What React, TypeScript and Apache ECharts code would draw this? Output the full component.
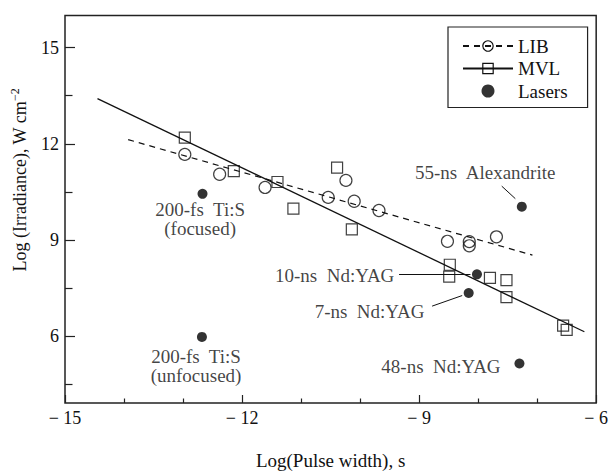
import React, { useEffect, useRef } from "react";
import * as echarts from "echarts";

// ---- data ----
const libX = [-12.97, -12.38, -11.61, -10.54, -10.24, -10.1, -9.68, -8.52, -8.15, -8.15, -7.69];
const libY = [11.67, 11.05, 10.64, 10.33, 10.86, 10.21, 9.92, 8.96, 8.95, 8.82, 9.1];
const mvlX = [-12.97, -12.14, -11.4, -11.13, -10.39, -10.14, -8.48, -8.49, -7.8, -7.52, -7.52, -6.56, -6.5];
const mvlY = [12.19, 11.15, 10.81, 9.98, 11.26, 9.33, 8.23, 7.86, 7.82, 7.75, 7.22, 6.33, 6.2];
const laserX = [-12.67, -12.68, -7.26, -8.02, -8.16, -7.3];
const laserY = [10.44, 5.98, 10.04, 7.93, 7.35, 5.15];
const libFitX = [-13.93, -7.08];
const libFitY = [12.13, 8.53];
const mvlFitX = [-14.45, -6.2];
const mvlFitY = [13.41, 6.14];

const noteTexts = [
  "200-fs  Ti:S\n(focused)",
  "200-fs  Ti:S\n(unfocused)",
  "55-ns  Alexandrite",
  "10-ns  Nd:YAG",
  "7-ns  Nd:YAG",
  "48-ns  Nd:YAG",
];
const noteX = [-12.71, -12.78, -7.88, -9.42, -9.84, -8.63];
const noteY = [9.66, 5.08, 11.11, 7.88, 6.76, 5.05];
const noteAnchor = ["center", "center", "center", "right", "center", "center"];

const leaderX = [[-7.6, -7.37], [-9.34, -8.13], [-8.78, -8.27]];
const leaderY = [[10.68, 10.29], [7.94, 7.94], [6.94, 7.27]];

const xTickStep = 3;
const yTicks = [6, 9, 12, 15];
const yMinorTicks = [4.5, 7.5, 10.5, 13.5];

export default function App() {
  const ref = useRef<HTMLDivElement>(null);
  useEffect(() => {
    document.body.style.margin = "0";
    const chart = echarts.init(ref.current!, null, { renderer: "svg" });
    const font = "'Liberation Serif', 'Times New Roman', serif";
    const ink = "#111";
    const tickLine = { color: "#222", width: 1.2 };
    const hollow = { color: "rgba(0,0,0,0)", borderColor: ink, borderWidth: 1.2 };
    const pairs = (xs: number[], ys: number[]) => xs.map((x, i) => [x, ys[i]]);

    const option: any = {
      animation: false,
      textStyle: { fontFamily: font, color: ink },
      grid: {
        left: 65, right: 11, top: 15.5, bottom: 66.5,
        show: true, borderColor: "#222", borderWidth: 1.5,
      },
      legend: {
        orient: "vertical",
        left: 448, top: 27,
        padding: [9.5, 20, 7, 14],
        itemGap: 3.5,
        itemWidth: 50, itemHeight: 13,
        borderColor: "#222", borderWidth: 1.2,
        data: ["LIB", "MVL", "Lasers"],
        textStyle: { fontSize: 19, fontFamily: font, color: ink },
        itemStyle: { borderWidth: 1.2 },
      },
      xAxis: {
        type: "value", min: -15, max: -6, interval: xTickStep,
        axisLine: { show: false },
        splitLine: { show: false },
        axisTick: { show: true, inside: true, length: 8, lineStyle: tickLine },
        minorTick: { show: true, splitNumber: 3, length: 4.5, lineStyle: tickLine },
        axisLabel: {
          margin: 6, fontSize: 18, fontFamily: font, color: ink,
          formatter: (v: number) => (v < 0 ? "− " + Math.abs(v) : String(v)),
        },
        name: "Log(Pulse width), s",
        nameLocation: "middle", nameGap: 48,
        nameTextStyle: { fontSize: 19, fontFamily: font, color: ink },
      },
      yAxis: [
        {
          type: "value", min: 3.92, max: 16,
          axisLine: { show: false }, splitLine: { show: false },
          axisTick: { show: true, inside: true, length: 10, customValues: yTicks, lineStyle: tickLine },
          axisLabel: { customValues: yTicks, margin: 6, fontSize: 18, fontFamily: font, color: ink },
        },
        {
          type: "value", min: 3.92, max: 16, position: "left",
          axisLine: { show: false }, splitLine: { show: false },
          axisTick: { show: true, inside: true, length: 7.5, customValues: yMinorTicks, lineStyle: tickLine },
          axisLabel: { show: false },
        },
      ],
      graphic: [
        {
          type: "text", x: 20, y: 180, rotation: Math.PI / 2,
          style: {
            text: "Log (Irradiance), W cm{sup|−2}",
            fontSize: 18, fontFamily: font, fill: ink,
            align: "center", verticalAlign: "middle",
            rich: { sup: { fontSize: 12, fontFamily: font, fill: ink, padding: [0, 0, 10, 0] } },
          },
        },
      ],
      series: [
        {
          name: "LIB", type: "line", data: pairs(libFitX, libFitY),
          symbol: "circle", symbolSize: 11, showSymbol: false, silent: true,
          lineStyle: { type: [6, 5], color: ink, width: 1.2 },
          itemStyle: hollow, z: 2,
        },
        {
          name: "MVL", type: "line", data: pairs(mvlFitX, mvlFitY),
          symbol: "rect", symbolSize: 11, showSymbol: false, silent: true,
          lineStyle: { type: "solid", color: ink, width: 1.3 },
          itemStyle: hollow, z: 2,
        },
        {
          name: "LIB", type: "scatter", data: pairs(libX, libY),
          symbol: "circle", symbolSize: 12, itemStyle: hollow, z: 3,
        },
        {
          name: "MVL", type: "scatter", data: pairs(mvlX, mvlY),
          symbol: "rect", symbolSize: 11, itemStyle: hollow, z: 3,
        },
        {
          name: "Lasers", type: "scatter", data: pairs(laserX, laserY),
          symbol: "circle", symbolSize: 10, itemStyle: { color: "#000" }, z: 4,
        },
        {
          name: "notes", type: "scatter", symbolSize: 0, silent: true, z: 5,
          data: noteTexts.map((t, i) => ({
            name: t,
            value: [noteX[i], noteY[i]],
            label: noteAnchor[i] === "right"
              ? { position: "left", distance: 0, align: "right" }
              : { position: "inside", align: "center" },
          })),
          label: {
            show: true, formatter: (p: any) => p.name,
            fontSize: 19, fontFamily: font, color: ink, lineHeight: 19.5,
            verticalAlign: "middle",
          },
        },
        {
          name: "leaders", type: "lines", coordinateSystem: "cartesian2d", silent: true, z: 5,
          data: leaderX.map((xs, i) => ({ coords: pairs(xs, leaderY[i]) })),
          lineStyle: { color: ink, width: 1, opacity: 1 },
        },
      ],
    };
    chart.setOption(option);
    return () => chart.dispose();
  }, []);
  return <div ref={ref} style={{ width: 611, height: 475 }} />;
}
